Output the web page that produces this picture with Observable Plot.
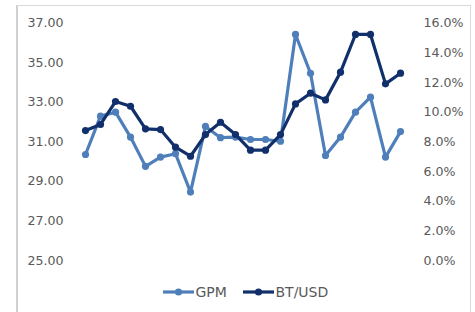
<!DOCTYPE html>
<html><head><meta charset="utf-8">
<script src="https://cdn.jsdelivr.net/npm/d3@7"></script>
<script src="https://cdn.jsdelivr.net/npm/@observablehq/plot@0.6"></script>
<style>
html,body{margin:0;padding:0;background:#fff;}
#wrap{position:relative;width:475px;height:312px;overflow:hidden;font-family:"DejaVu Sans",sans-serif;}
#frame{position:absolute;left:16px;top:5px;width:455px;height:340px;border:1px solid #d9d9d9;border-left:2px solid #d0d0d0;box-sizing:border-box;}
#chart{position:absolute;left:0;top:0;}
#legend{position:absolute;left:0;top:0;width:475px;height:312px;pointer-events:none;}
.item{position:absolute;top:283px;height:18px;display:flex;align-items:center;font-size:14px;color:#595959;}
.item svg{margin-right:2px;}
</style></head>
<body>
<div id="wrap">
  <div id="frame"></div>
  <div id="chart"></div>
  <div id="legend"></div>
</div>
<script>
// categories (periods; no labels shown on the x axis)
const periods = [1,2,3,4,5,6,7,8,9,10,11,12,13,14,15,16,17,18,19,20,21,22];
// GPM (left axis)
const gpm = [30.36,32.30,32.50,31.24,29.76,30.23,30.40,28.46,31.78,31.21,31.24,31.12,31.12,31.03,36.43,34.47,30.31,31.24,32.50,33.26,30.23,31.52];
// BT/USD (right axis, %)
const btUsd = [8.76,9.17,10.72,10.40,8.88,8.83,7.64,7.03,8.49,9.32,8.49,7.44,7.44,8.49,10.56,11.28,10.83,12.70,15.24,15.24,11.91,12.63];
// tick labels
const leftTicks = [25,27,29,31,33,35,37];
const rightTicks = [0,2,4,6,8,10,12,14,16];
const seriesNames = ["GPM","BT/USD"];
const colors = {"GPM":"#4f7fba","BT/USD":"#11306b"};

// right axis maps 0–16% onto left 25–37
const pctToLeft = p => 25 + p * 12 / 16;

const rows = periods.map((p, i) => ({period: p, gpm: gpm[i], bt: pctToLeft(btUsd[i])}));

const chart = Plot.plot({
  width: 475,
  height: 276,
  marginLeft: 77.5,
  marginRight: 67.5,
  marginTop: 22.7,
  marginBottom: 16,
  x: {type: "point", domain: periods, padding: 0.5, axis: null},
  y: {domain: [25, 37], axis: null},
  style: {fontFamily: "'DejaVu Sans', sans-serif", fontSize: "12.6px", color: "#595959", background: "transparent", overflow: "visible"},
  marks: [
    Plot.axisY(leftTicks, {anchor: "left", tickSize: 0, tickPadding: 14.5, tickFormat: d => d.toFixed(2), fill: "#595959"}),
    Plot.axisY(rightTicks.map(pctToLeft), {anchor: "right", tickSize: 0, tickPadding: 15.5, tickFormat: d => ((d - 25) * 16 / 12).toFixed(1) + "%", fill: "#595959"}),
    Plot.line(rows, {x: "period", y: "gpm", stroke: colors["GPM"], strokeWidth: 3.2, strokeLinejoin: "round"}),
    Plot.dot(rows, {x: "period", y: "gpm", fill: colors["GPM"], r: 3.6}),
    Plot.line(rows, {x: "period", y: "bt", stroke: colors["BT/USD"], strokeWidth: 3.2, strokeLinejoin: "round"}),
    Plot.dot(rows, {x: "period", y: "bt", fill: colors["BT/USD"], r: 3.6})
  ]
});
document.getElementById("chart").appendChild(chart);

// legend
const legend = document.getElementById("legend");
const lefts = [162.5, 242.5];
seriesNames.forEach((name, i) => {
  const c = colors[name];
  const div = document.createElement("div");
  div.className = "item";
  div.style.left = lefts[i] + "px";
  div.innerHTML = `<svg width="31" height="10"><line x1="0" y1="5" x2="31" y2="5" stroke="${c}" stroke-width="3.2"/><circle cx="15.5" cy="5" r="3.6" fill="${c}"/></svg><span>${name}</span>`;
  legend.appendChild(div);
});
</script>
</body></html>
